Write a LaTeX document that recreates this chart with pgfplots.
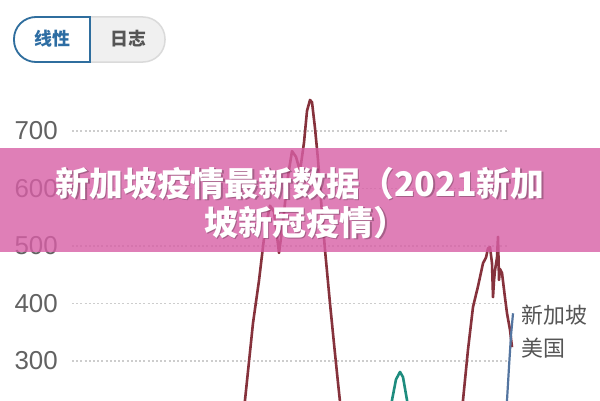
\documentclass[border=0pt]{standalone}
\usepackage{pgfplots}
\pgfplotsset{compat=1.18}
\usepackage{fontspec}
\setmainfont{Liberation Sans}
\newfontfamily\cjk{Noto Sans CJK SC}
\definecolor{sgred}{RGB}{134,50,60}
\definecolor{usblue}{RGB}{84,117,160}
\definecolor{tealc}{RGB}{30,140,126}
\definecolor{ticktext}{RGB}{98,98,98}
\definecolor{gridc}{RGB}{205,205,205}
\definecolor{banner}{RGB}{216,95,166}
\definecolor{btnblue}{RGB}{47,110,158}
\definecolor{btntext}{RGB}{45,109,163}
\definecolor{btngray}{RGB}{240,240,240}
\definecolor{btnborder}{RGB}{218,218,218}
\definecolor{labelc}{RGB}{85,85,85}
\begin{document}
\begin{tikzpicture}[x=1bp,y=1bp]
\useasboundingbox (0,0) rectangle (600,400);
\clip (0,0) rectangle (600,400);
\fill[white] (0,0) rectangle (600,400);
\begin{axis}[
  at={(72,0)}, anchor=south west, scale only axis,
  width=436bp, height=310bp,
  xmin=72, xmax=508, ymin=232.2, ymax=771.3,
  xtick=\empty, ytick={300,400,500,600,700},
  axis line style={draw=none}, major tick length=0pt,
  ymajorgrids, grid style={gridc, line width=1.2bp, dash pattern=on 2bp off 2.2bp},
  yticklabel style={font=\fontsize{26}{26}\selectfont, text=ticktext, inner sep=0pt, xshift=-14bp},
  /pgf/number format/assume math mode=true,
  clip=false,
]
\addplot[sgred, line width=2.6bp, line join=round] coordinates {
(240,150) (245,232) (253,366) (259,440) (265,528) (270,570) (274,560) (279,488)
(283,540) (287,610) (292,665) (296,655) (300,630) (304,680) (307,735) (310,754)
(312,750) (315,705) (318,650) (321,580) (325,493) (330,400) (334,330) (338,262) (343,180)
};
\addplot[sgred, line width=2.6bp, line join=round] coordinates {
(458,150) (463,232) (468,320) (473,394) (478,430) (483,470) (486,480) (488,496) (490,498)
(492,470) (493,411) (494,440) (495,458) (497,480) (498,516) (499,441) (500,460) (502,453)
(505,410) (507,383) (510,354) (512,324)
};
\addplot[tealc, line width=2.6bp, line join=round] coordinates {
(386,180) (392,232) (396,268) (400,281) (403,272) (407,232) (412,170)
};
\addplot[usblue, line width=2.2bp, line join=round] coordinates {
(504,180) (507,232) (509,290) (511,345) (513,383)
};
\end{axis}
% right labels
\node[anchor=base west, inner sep=0pt, text=labelc, font=\cjk\fontsize{22}{22}\selectfont] at (521,77) {新加坡};
\node[anchor=base west, inner sep=0pt, text=labelc, font=\cjk\fontsize{22}{22}\selectfont] at (521,44) {美国};
% buttons
\draw[fill=btngray, draw=btnborder, line width=1.5bp, rounded corners=22bp] (14,338) rectangle (165,383);
\draw[fill=white, draw=btnblue, line width=1.8bp] (90,383) [rounded corners=22bp] -- (14,383) -- (14,338) [sharp corners] -- (90,338) -- cycle;
\node[anchor=base, inner sep=0pt, text=btntext, font=\cjk\bfseries\fontsize{18}{18}\selectfont] at (52,355) {线性};
\node[anchor=base, inner sep=0pt, text=labelc, font=\cjk\bfseries\fontsize{18}{18}\selectfont] at (128,355) {日志};
% banner
\fill[banner, opacity=0.8] (0,148) rectangle (600,252);
\begin{scope}[font=\cjk\bfseries\fontsize{34}{34}\selectfont]
\node[anchor=base, inner sep=0pt, text=black, opacity=0.25] at (301.5,202.5) {新加坡疫情最新数据（2021新加};
\node[anchor=base, inner sep=0pt, text=black, opacity=0.25] at (307.5,163.5) {坡新冠疫情）};
\node[anchor=base, inner sep=0pt, text=white] at (300,204) {新加坡疫情最新数据（2021新加};
\node[anchor=base, inner sep=0pt, text=white] at (306,165) {坡新冠疫情）};
\end{scope}
\end{tikzpicture}
\end{document}
